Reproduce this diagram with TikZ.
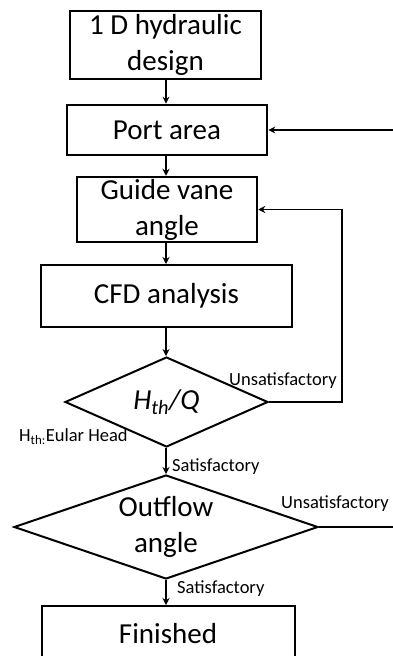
\documentclass[tikz,border=0pt]{standalone}
\usepackage{fontspec}
\setmainfont{Carlito}
\usetikzlibrary{shapes.geometric,arrows.meta}
\newcommand{\flowfont}{\fontsize{29}{36}\selectfont}
\newcommand{\notefont}{\fontsize{18.5}{22}\selectfont}
\tikzset{
	stepbox/.style={draw, rectangle, line width=#1, align=center, font=\flowfont, inner sep=0pt},
	stepbox/.default=2pt,
	decision/.style={draw, diamond, line width=2pt, align=center, font=\flowfont, inner sep=0pt},
	flow/.style={line width=1.4pt, -{Stealth[length=7pt,width=7pt]}},
	note/.style={font=\notefont, inner sep=0pt, anchor=base west}
}

\begin{document}
\begin{tikzpicture}[x=1pt,y=-1pt]
	\useasboundingbox (0,0) rectangle (393,656);
	\clip (0,0) rectangle (393,656);
	\node[stepbox=2.7pt, minimum width=191pt, minimum height=68pt] (design) at (165.5,45) {1 D hydraulic\\design};
	\node[stepbox=2.7pt, minimum width=200pt, minimum height=50pt] (port) at (167,130) {Port area};
	\node[stepbox=2.5pt, minimum width=180pt, minimum height=65pt] (vane) at (167,209.5) {Guide vane\\angle};
	\node[stepbox, minimum width=251pt, minimum height=62pt] (cfd) at (166.5,296) {CFD analysis};
	\node[decision, minimum width=203pt, minimum height=90pt, shape aspect=2.25] (head) at (166.5,402) {\textit{H\textsubscript{th}/Q}};
	\node[decision, minimum width=304pt, minimum height=104pt, shape aspect=2.9] (outflow) at (166,527) {Outflow\\angle};
	\node[stepbox, minimum width=253pt, minimum height=56pt] (done) at (168,634) {Finished};
	\coordinate (loopa) at (342,0);
	\coordinate (edgeb) at (400,0);
	% main flow
	\draw[flow] (166,0 |- design.south) -- (166,0 |- port.north);
	\draw[flow] (166,0 |- port.south) -- (166,0 |- vane.north);
	\draw[flow] (166,0 |- vane.south) -- (166,0 |- cfd.north);
	\draw[flow] (166,0 |- cfd.south) -- (166,0 |- head.north);
	\draw[flow] (166,0 |- head.south) -- (166,0 |- outflow.north);
	\draw[flow] (166,0 |- outflow.south) -- (166,0 |- done.north);
	% loops back
	\draw[flow] (head.east) -- (head.east -| loopa) -- (loopa |- vane.east) -- (vane.east);
	\draw[line width=1.4pt] (outflow.east) -- (outflow.east -| edgeb);
	\draw[flow] (port.east -| edgeb) -- (port.east);
	\node[note] (unsat1) at (229,385) {Unsatisfactory};
	\node[note] (sat1) at (172,471) {Satisfactory};
	\node[note] (unsat2) at (281,508) {Unsatisfactory};
	\node[note] (sat2) at (177,593) {Satisfactory};
	\node[note] (eular) at (19,441) {H\textsubscript{th:}Eular Head};
\end{tikzpicture}
\end{document}
